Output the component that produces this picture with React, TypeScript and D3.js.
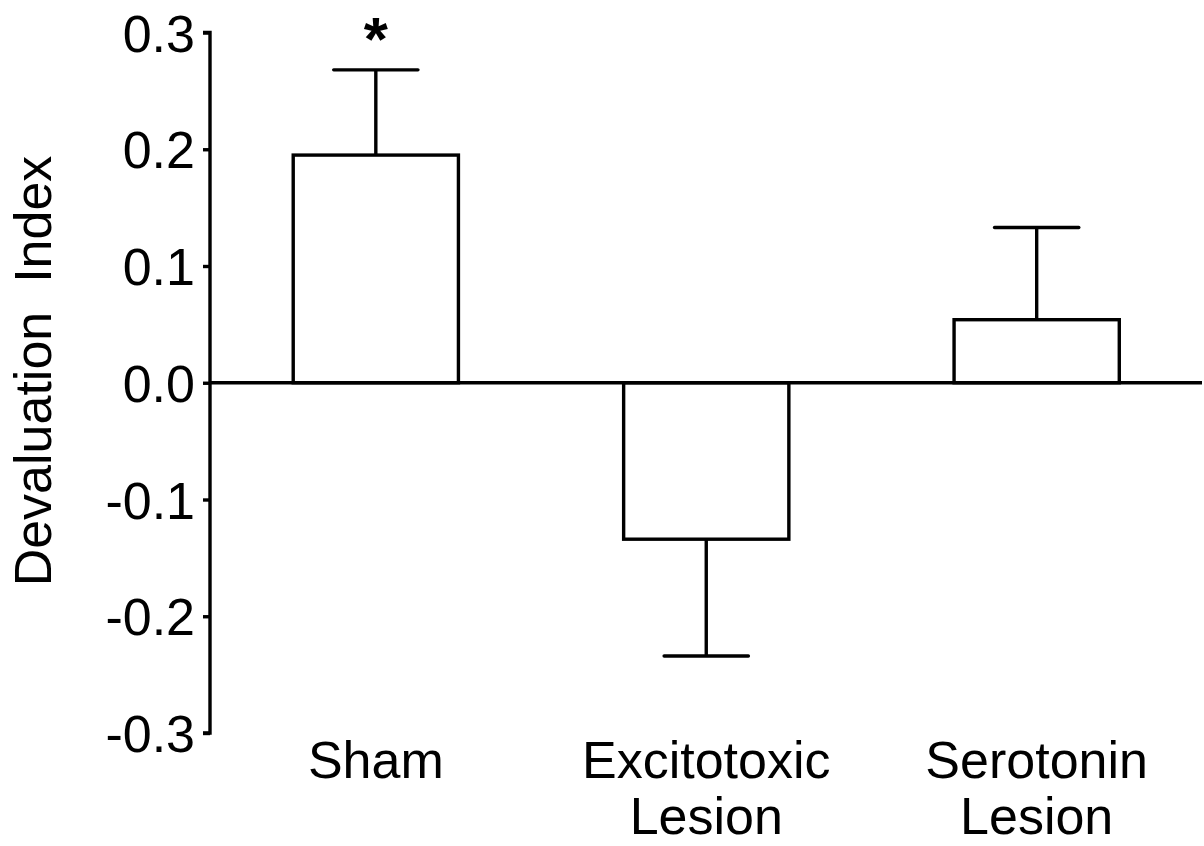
import * as d3 from 'd3';
import React, { useEffect, useRef } from 'react';

// --- Data ---
const groups: string[][] = [['Sham'], ['Excitotoxic', 'Lesion'], ['Serotonin', 'Lesion']];
const means: number[] = [0.195, -0.134, 0.054];
const errors: number[] = [0.073, 0.1, 0.079]; // SEM, drawn one-sided away from zero
const significant: boolean[] = [true, false, false];
const yTicks: number[] = [-0.3, -0.2, -0.1, 0.0, 0.1, 0.2, 0.3];

const WIDTH = 1204;
const HEIGHT = 846;
const FONT = '"Liberation Sans", Arial, Helvetica, sans-serif';

function DevaluationChart() {
    const svgRef = useRef<SVGSVGElement>(null);

    useEffect(() => {
        const svg = d3.select(svgRef.current);
        svg.selectAll('*').remove();

        const axisX = 210;
        const yScale = d3.scaleLinear().domain([-0.3, 0.3]).range([733, 32.5]);

        const xScale = d3.scaleBand<number>()
            .domain(d3.range(groups.length))
            .range([128, 1284.5])
            .paddingInner(0.5)
            .paddingOuter(0.5);

        const stroke = 3.4;

        // --- Y axis ---
        const yAxis = d3.axisLeft(yScale)
            .tickValues(yTicks)
            .tickSize(7)
            .tickPadding(8)
            .tickFormat(d => d3.format('.1f')(d as number).replace('\u2212', '-'));

        const yAxisG = svg.append('g')
            .attr('transform', `translate(${axisX},0)`)
            .call(yAxis);
        yAxisG.select('.domain')
            .attr('d', `M-7,${yScale(0.3)}H0V${yScale(-0.3)}H-7`)
            .attr('stroke', '#000')
            .attr('stroke-width', stroke)
            .attr('fill', 'none');
        yAxisG.selectAll('.tick line').attr('stroke-width', stroke);
        yAxisG.selectAll('.tick text')
            .attr('font-family', FONT)
            .attr('font-size', 52)
            .attr('fill', '#000')
            .attr('dy', '0.36em');

        // Y axis title
        svg.append('text')
            .attr('transform', `translate(51,${371}) rotate(-90)`)
            .attr('text-anchor', 'middle')
            .attr('font-family', FONT)
            .attr('font-size', 52)
            .attr('xml:space', 'preserve')
            .style('white-space', 'pre')
            .text('Devaluation  Index');

        // --- Bars ---
        const y0 = yScale(0);
        svg.selectAll('.bar')
            .data(means)
            .join('rect')
            .attr('class', 'bar')
            .attr('x', (_, i) => xScale(i)!)
            .attr('y', d => Math.min(yScale(d), y0))
            .attr('width', xScale.bandwidth())
            .attr('height', d => Math.abs(yScale(d) - y0))
            .attr('fill', '#fff')
            .attr('stroke', '#000')
            .attr('stroke-width', stroke);

        // --- Error bars ---
        const capHalf = xScale.bandwidth() * 0.255;
        means.forEach((m, i) => {
            const cx = xScale(i)! + xScale.bandwidth() / 2;
            const end = m >= 0 ? m + errors[i] : m - errors[i];
            svg.append('line')
                .attr('x1', cx).attr('x2', cx)
                .attr('y1', yScale(m)).attr('y2', yScale(end))
                .attr('stroke', '#000').attr('stroke-width', stroke);
            svg.append('line')
                .attr('x1', cx - capHalf).attr('x2', cx + capHalf)
                .attr('y1', yScale(end)).attr('y2', yScale(end))
                .attr('stroke', '#000').attr('stroke-width', stroke)
                .attr('stroke-linecap', 'round');
            if (significant[i]) {
                svg.append('text')
                    .attr('x', cx)
                    .attr('y', yScale(end) - 10)
                    .attr('text-anchor', 'middle')
                    .attr('font-family', FONT)
                    .attr('font-weight', 'bold')
                    .attr('font-size', 62)
                    .text('*');
            }
        });

        // --- Zero line ---
        svg.append('line')
            .attr('x1', axisX).attr('x2', 1202)
            .attr('y1', y0).attr('y2', y0)
            .attr('stroke', '#000').attr('stroke-width', stroke);

        // --- Category labels ---
        groups.forEach((lines, i) => {
            const cx = xScale(i)! + xScale.bandwidth() / 2;
            const t = svg.append('text')
                .attr('text-anchor', 'middle')
                .attr('font-family', FONT)
                .attr('font-size', 52)
                .attr('fill', '#000');
            lines.forEach((ln, j) => {
                t.append('tspan')
                    .attr('x', cx)
                    .attr('y', 778 + j * 56)
                    .text(ln);
            });
        });
    }, []);

    return (
        <svg
            ref={svgRef}
            width={WIDTH}
            height={HEIGHT}
            style={{ position: 'absolute', left: 0, top: 0, background: '#fff' }}
        />
    );
}

export default function App() {
    return <DevaluationChart />;
}
